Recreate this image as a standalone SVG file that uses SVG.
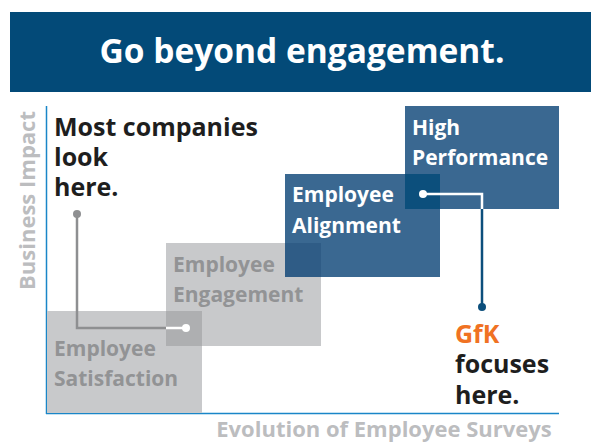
<svg xmlns="http://www.w3.org/2000/svg" width="603" height="444" viewBox="0 0 603 444">
<style>
text{font-family:"Open Sans","Liberation Sans",sans-serif;font-weight:bold}
.gbox{fill:#c8c9cb}
.bbox{fill:#3a6891}
.glab{fill:#929395;font-size:21px}
.wlab{fill:#ffffff;font-size:21px}
.call{fill:#1e1e1e;font-size:25px}
.axl{fill:#bcbdbf;font-size:22px}
</style>
<rect x="0" y="0" width="603" height="444" fill="#ffffff"/>
<g id="title">
<rect x="10" y="12" width="581" height="80" fill="#034a78"/>
<text x="302" y="63" text-anchor="middle" font-size="33.5" fill="#ffffff">Go beyond engagement.</text>
</g>
<g id="axes">
<line x1="46.5" y1="106" x2="46.5" y2="414" stroke="#1a86c8" stroke-width="1.5"/>
<line x1="46" y1="413.5" x2="559" y2="413.5" stroke="#1a86c8" stroke-width="1.5"/>
<text class="axl" transform="translate(35,200.5) rotate(-90)" text-anchor="middle" font-size="23">Business Impact</text>
<text class="axl" x="384" y="437" text-anchor="middle">Evolution of Employee Surveys</text>
</g>
<g id="satisfaction">
<rect class="gbox" x="47" y="311" width="155" height="102"/>
<text class="glab" x="54" y="356">Employee</text>
<text class="glab" x="54" y="386">Satisfaction</text>
</g>
<g id="engagement">
<rect class="gbox" x="166" y="243" width="155" height="103"/>
<rect x="166" y="311" width="36" height="35" fill="#aeafb1"/>
<text class="glab" x="173" y="272">Employee</text>
<text class="glab" x="173" y="302">Engagement</text>
</g>
<g id="alignment">
<rect class="bbox" x="285" y="174" width="155" height="103"/>
<rect x="285" y="243" width="36" height="34" fill="#2f5c86"/>
<text class="wlab" x="292" y="202">Employee</text>
<text class="wlab" x="292" y="233">Alignment</text>
</g>
<g id="performance">
<rect class="bbox" x="405" y="106" width="154" height="103"/>
<rect x="405" y="174" width="35" height="35" fill="#0c4f7c"/>
<text class="wlab" x="412" y="135">High</text>
<text class="wlab" x="412" y="165">Performance</text>
</g>
<g id="callout-most">
<text class="call" x="54" y="136">Most companies</text>
<text class="call" x="54" y="166">look</text>
<text class="call" x="54" y="196">here.</text>
</g>
<g id="callout-gfk">
<text class="call" x="455" y="343" style="fill:#f07223">GfK</text>
<text class="call" x="455" y="373">focuses</text>
<text class="call" x="455" y="404">here.</text>
</g>
<g id="connectors" fill="none" stroke-width="2.5">
<polyline points="77,214 77,328 166,328" stroke="#8e8f91"/>
<line x1="166" y1="328" x2="186" y2="328" stroke="#ffffff"/>
<circle cx="77" cy="214" r="4" fill="#8e8f91" stroke="none"/>
<circle cx="186" cy="328" r="4" fill="#ffffff" stroke="none"/>
<polyline points="423,194 482,194 482,209" stroke="#ffffff"/>
<line x1="482" y1="209" x2="482" y2="307" stroke="#0c4f7c"/>
<circle cx="423" cy="194" r="4" fill="#ffffff" stroke="none"/>
<circle cx="482" cy="307" r="4" fill="#0c4f7c" stroke="none"/>
</g>
</svg>
